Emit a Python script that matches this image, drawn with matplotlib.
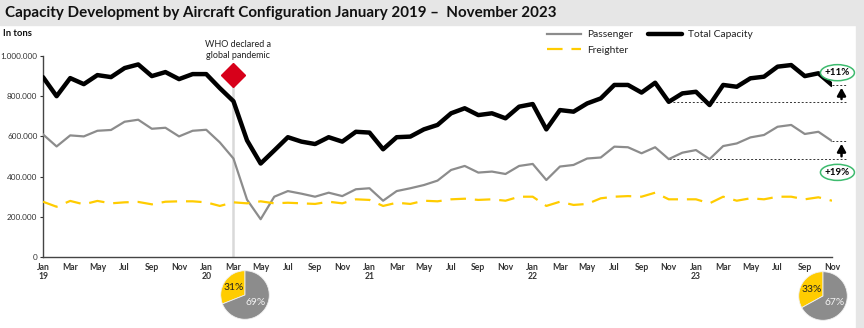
import numpy as np
import matplotlib
matplotlib.use("Agg")
import matplotlib.pyplot as plt
from matplotlib.patches import Ellipse, Rectangle
from matplotlib.ticker import FuncFormatter

plt.rcParams["font.family"] = ["Lato", "DejaVu Sans"]

# monthly values Jan 2019 - Nov 2023, in tons
total_capacity = [895, 800, 890, 860, 905, 895, 940, 958, 900, 920, 885, 910,
                  910, 840, 775, 580, 465, 530, 596, 574, 562, 596, 574, 623,
                  619, 536, 596, 599, 635, 657, 715, 740, 706, 715, 690, 748,
                  761, 635, 731, 723, 764, 789, 856, 856, 818, 867, 772, 814,
                  822, 756, 856, 847, 889, 897, 947, 955, 900, 914, 856]
passenger = [610, 550, 605, 600, 628, 632, 673, 683, 638, 643, 600, 628,
             633, 570, 490, 285, 188, 300, 328, 315, 300, 320, 303, 337,
             342, 280, 328, 342, 358, 380, 433, 453, 420, 425, 413, 453,
             463, 383, 450, 458, 490, 495, 549, 546, 516, 546, 487, 519,
             532, 487, 552, 565, 595, 607, 648, 657, 612, 623, 577]
freighter = [275, 250, 279, 262, 279, 267, 272, 274, 262, 275, 277, 277,
             272, 254, 272, 267, 277, 267, 270, 267, 264, 275, 267, 287,
             284, 254, 270, 264, 280, 277, 287, 290, 284, 287, 280, 300,
             300, 254, 275, 259, 264, 292, 300, 303, 300, 320, 287, 287,
             287, 267, 300, 280, 292, 287, 300, 300, 287, 297, 280]
total_capacity = np.array(total_capacity) * 1000
passenger = np.array(passenger) * 1000
freighter = np.array(freighter) * 1000

month_names = ["Jan", "Feb", "Mar", "Apr", "May", "Jun",
               "Jul", "Aug", "Sep", "Oct", "Nov", "Dec"]
years = [19, 20, 21, 22, 23]
pandemic_month = 14          # Mar 20
base_month = 46              # Nov 22
total_growth = "+11%"
passenger_growth = "+19%"
pie_freighter = [31, 33]
pie_passenger = [69, 67]

GREY = "#8c8c8c"
YELLOW = "#ffcc00"
W, H = 864, 328

fig = plt.figure(figsize=(W / 100, H / 100), dpi=100)

# title band and right border
fig.patches.append(Rectangle((0, 1 - 25 / H), 1, 25 / H, transform=fig.transFigure,
                             color="#e6e6e6", zorder=0))
fig.patches.append(Rectangle((1 - 8 / W, 0), 8 / W, 1, transform=fig.transFigure,
                             color="#e6e6e6", zorder=0))
fig.text(5 / W, 1 - 13 / H, "Capacity Development by Aircraft Configuration January 2019 \u2013  November 2023",
         fontsize=10.9, fontweight="bold", va="center", ha="left", color="#111111")
fig.text(3 / W, 1 - 33 / H, "In tons", fontsize=6.8, fontweight="bold", va="center", color="#111111")

ax = fig.add_axes([43 / W, 1 - 257 / H, (832 - 43) / W, (257 - 56) / H])
x = np.arange(len(total_capacity))

ax.plot(x, passenger, color=GREY, lw=1.6, solid_joinstyle="round", label="Passenger", zorder=3)
ax.plot(x, freighter, color=YELLOW, lw=1.6, dashes=(7, 4), label="Freighter", zorder=3)
ax.plot(x, total_capacity, color="black", lw=3.2, solid_joinstyle="round",
        solid_capstyle="round", label="Total Capacity", zorder=4)

ax.set_xlim(0, len(x) - 1)
ax.set_ylim(0, 1_000_000)
ax.set_yticks(np.arange(0, 1_000_001, 200_000))
ax.yaxis.set_major_formatter(FuncFormatter(lambda v, p: f"{int(v):,}".replace(",", ".")))

ticks = list(range(0, len(x), 2))
labels = []
for t in ticks:
    m = month_names[t % 12]
    if t % 12 == 0:
        m += "\n" + str(years[t // 12])
    labels.append(m)
ax.set_xticks(ticks)
ax.set_xticklabels(labels, fontsize=6.2, color="#333333", linespacing=1.0, fontweight="bold")
ax.tick_params(axis="x", length=0, pad=4)
ax.tick_params(axis="y", labelsize=5.9, colors="#333333", length=2.5, width=0.8, pad=1.5)
for s in ["top", "right"]:
    ax.spines[s].set_visible(False)
for s in ["left", "bottom"]:
    ax.spines[s].set_color("#444444")
    ax.spines[s].set_linewidth(1.0)

# pandemic marker
ax.plot([pandemic_month, pandemic_month], [0, 905_000], color="#d9d9d9", lw=1.8, zorder=2)
ax.plot([pandemic_month], [905_000], marker="D", ms=12, color="#d7001a", zorder=5, clip_on=False)
ax.text(pandemic_month + 0.3, 1_030_000, "WHO declared a\nglobal pandemic", fontsize=6.5,
        ha="center", va="center", color="#222222", linespacing=1.4)

# growth annotations
arrow_x = 58.7
for series, label, ly in [(total_capacity, total_growth, 917_000),
                          (passenger, passenger_growth, 421_000)]:
    lo, hi = series[base_month], series[-1]
    ax.plot([base_month, arrow_x + 0.3], [lo, lo], color="#333333", lw=0.7, ls=(0, (2, 2)),
            clip_on=False, zorder=2)
    ax.plot([len(x) - 1, arrow_x + 0.3], [hi, hi], color="#333333", lw=0.7, ls=(0, (2, 2)),
            clip_on=False, zorder=2)
    ax.annotate("", xy=(arrow_x, hi), xytext=(arrow_x, lo),
                arrowprops=dict(arrowstyle="-|>,head_width=0.25,head_length=0.45",
                                color="black", lw=1.8), annotation_clip=False)
    e = Ellipse((58.4, ly), width=2.5, height=80_000, fill=True, facecolor="white",
                edgecolor="#3dbb6e", lw=1.1, clip_on=False, zorder=6)
    ax.add_patch(e)
    ax.text(58.4, ly, label, fontsize=7, fontweight="bold", ha="center", va="center",
            zorder=7, clip_on=False)

leg = ax.legend(loc="upper left", bbox_to_anchor=(495 / 789, 1.175), ncol=2, frameon=False,
                fontsize=7.4, handlelength=3.3, columnspacing=1.4, labelspacing=0.6,
                handletextpad=0.6)
for t in leg.get_texts():
    t.set_color("#222222")

# pies
for cx, cy, fr, pa in [(245, 295, pie_freighter[0], pie_passenger[0]),
                       (823, 296, pie_freighter[1], pie_passenger[1])]:
    r = 25
    pax = fig.add_axes([(cx - r) / W, 1 - (cy + r) / H, 2 * r / W, 2 * r / H])
    wedges, texts, autotexts = pax.pie([fr, pa], colors=[YELLOW, GREY], startangle=90,
                                       counterclock=True, autopct="%d%%", pctdistance=0.55,
                                       wedgeprops=dict(edgecolor="#f0f0f0", linewidth=0.6))
    autotexts[0].set_color("#222222")
    autotexts[1].set_color("#f2f2f2")
    for t in autotexts:
        t.set_fontsize(7.4)
    pax.set_xlim(-1.03, 1.03)
    pax.set_ylim(-1.03, 1.03)
    pax.set_aspect("equal")

fig.savefig("out.png", dpi=100)
